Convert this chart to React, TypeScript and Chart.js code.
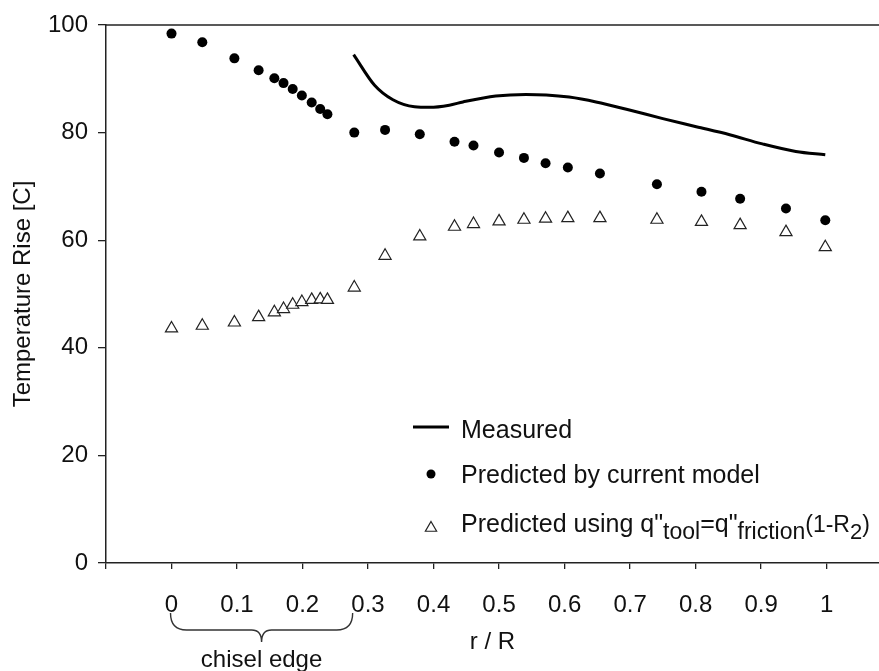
import React, { useEffect, useRef } from 'react';
import { Chart, registerables } from 'chart.js';

Chart.register(...registerables);

// r/R positions shared by both predicted series
const rOverR = [0, 0.047, 0.096, 0.133, 0.157, 0.171, 0.185, 0.199, 0.214, 0.227, 0.238, 0.279, 0.326, 0.379, 0.432, 0.461, 0.5, 0.538, 0.571, 0.605, 0.654, 0.741, 0.809, 0.868, 0.938, 0.998];
const predictedCurrent = [98.4, 96.8, 93.8, 91.6, 90.1, 89.2, 88.1, 86.9, 85.6, 84.4, 83.4, 80.0, 80.5, 79.7, 78.3, 77.6, 76.3, 75.3, 74.3, 73.5, 72.4, 70.4, 69.0, 67.7, 65.9, 63.7];
const predictedFriction = [43.6, 44.1, 44.7, 45.7, 46.6, 47.2, 48.0, 48.5, 48.9, 49.0, 48.9, 51.2, 57.1, 60.7, 62.5, 63.0, 63.5, 63.8, 64.0, 64.1, 64.1, 63.8, 63.4, 62.8, 61.5, 58.7];
const measuredX = [0.278, 0.31, 0.338, 0.371, 0.394, 0.424, 0.445, 0.495, 0.541, 0.572, 0.607, 0.648, 0.699, 0.75, 0.801, 0.852, 0.902, 0.953, 0.998];
const measuredY = [94.5, 88.8, 86.1, 84.8, 84.7, 85.1, 85.7, 86.8, 87.1, 87.0, 86.6, 85.7, 84.2, 82.6, 81.1, 79.6, 77.9, 76.5, 75.9];
const xTickValues = [-0.1, 0, 0.1, 0.2, 0.3, 0.4, 0.5, 0.6, 0.7, 0.8, 0.9, 1];
const yTickValues = [0, 20, 40, 60, 80, 100];
const chiselRange = [0, 0.275];
const legendLabels = ['Measured', 'Predicted by current model'];

const FAMILY = '"Liberation Sans", Arial, sans-serif';
const INK = '#111';
const AXIS = '#222';

const decorPlugin = {
  id: 'decor',
  afterDraw(chart: any) {
    const ctx = chart.ctx;
    const area = chart.chartArea;
    const xs = chart.scales.x;
    ctx.save();
    // top frame line
    ctx.strokeStyle = AXIS;
    ctx.lineWidth = 1.5;
    ctx.beginPath();
    ctx.moveTo(area.left, area.top);
    ctx.lineTo(Math.max(area.right, chart.width), area.top);
    ctx.stroke();

    // brace for chisel edge
    const x0 = xs.getPixelForValue(chiselRange[0]) - 1;
    const x1 = xs.getPixelForValue(chiselRange[1]) + 1;
    const mid = (x0 + x1) / 2;
    const yTop = 613;
    const yH = 630;
    const yCusp = 642;
    ctx.strokeStyle = '#333';
    ctx.lineWidth = 1.4;
    ctx.beginPath();
    ctx.moveTo(x0, yTop);
    ctx.quadraticCurveTo(x0, yH, x0 + 16, yH);
    ctx.lineTo(mid - 10, yH);
    ctx.quadraticCurveTo(mid, yH, mid, yCusp);
    ctx.quadraticCurveTo(mid, yH, mid + 10, yH);
    ctx.lineTo(x1 - 16, yH);
    ctx.quadraticCurveTo(x1, yH, x1, yTop);
    ctx.stroke();

    ctx.fillStyle = INK;
    ctx.font = `24px ${FAMILY}`;
    ctx.textAlign = 'center';
    ctx.textBaseline = 'alphabetic';
    ctx.fillText('chisel edge', mid, 667);

    // legend
    const lx = 431;
    const tx = 461;
    ctx.textAlign = 'left';
    ctx.strokeStyle = '#000';
    ctx.lineWidth = 3;
    ctx.beginPath();
    ctx.moveTo(413, 427);
    ctx.lineTo(449, 427);
    ctx.stroke();
    ctx.font = `25px ${FAMILY}`;
    ctx.fillText(legendLabels[0], tx, 438);

    ctx.fillStyle = '#000';
    ctx.beginPath();
    ctx.arc(lx, 474, 4.5, 0, Math.PI * 2);
    ctx.fill();
    ctx.fillStyle = INK;
    ctx.fillText(legendLabels[1], tx, 483);

    // triangle
    const r = 6.5;
    const cy = 528;
    ctx.strokeStyle = '#222';
    ctx.lineWidth = 1.2;
    ctx.fillStyle = '#fff';
    ctx.beginPath();
    for (let i = 0; i < 3; i++) {
      const a = (i * 2 * Math.PI) / 3;
      const px = lx + Math.sin(a) * r;
      const py = cy - Math.cos(a) * r;
      if (i === 0) ctx.moveTo(px, py); else ctx.lineTo(px, py);
    }
    ctx.closePath();
    ctx.fill();
    ctx.stroke();

    ctx.fillStyle = INK;
    const parts: [string, number, number][] = [
      ['Predicted using q"', 25, 532],
      ['tool', 23, 539],
      ['=q"', 25, 532],
      ['friction', 23, 539],
      ['(1-R', 23, 532],
      ['2', 22, 539],
      [')', 23, 532],
    ];
    let cx = tx;
    for (const [t, size, by] of parts) {
      ctx.font = `${size}px ${FAMILY}`;
      ctx.fillText(t, cx, by);
      cx += ctx.measureText(t).width;
    }
    ctx.restore();
  },
};

export default function App() {
  const ref = useRef<HTMLCanvasElement | null>(null);

  useEffect(() => {
    document.body.style.margin = '0';
    const canvas = ref.current;
    if (!canvas) return;
    const font = { family: FAMILY, size: 24 };
    const chart = new Chart(canvas, {
      type: 'scatter',
      data: {
        datasets: [
          {
            label: 'Measured',
            data: measuredX.map((x, i) => ({ x, y: measuredY[i] })),
            showLine: true,
            borderColor: '#000',
            borderWidth: 3,
            pointRadius: 0,
            pointHoverRadius: 0,
            cubicInterpolationMode: 'monotone',
            fill: false,
          },
          {
            label: 'Predicted by current model',
            data: rOverR.map((x, i) => ({ x, y: predictedCurrent[i] })),
            pointStyle: 'circle',
            pointRadius: 5,
            backgroundColor: '#000',
            borderColor: '#000',
            borderWidth: 0,
          },
          {
            label: 'Predicted using q"tool=q"friction(1-R2)',
            data: rOverR.map((x, i) => ({ x, y: predictedFriction[i] })),
            pointStyle: 'triangle',
            pointRadius: 7,
            backgroundColor: '#fff',
            borderColor: '#222',
            borderWidth: 1.2,
          },
        ],
      } as any,
      options: {
        responsive: false,
        animation: false,
        layout: { autoPadding: false, padding: { top: 25, left: 0, right: 0, bottom: 0 } },
        plugins: { legend: { display: false }, tooltip: { enabled: false } },
        scales: {
          x: {
            type: 'linear',
            min: -0.1,
            max: 1.08,
            afterBuildTicks: (s: any) => {
              s.ticks = xTickValues.map((v) => ({ value: v }));
            },
            afterFit: (s: any) => {
              s.height = 108;
              s.paddingLeft = 0;
              s.paddingRight = 0;
            },
            grid: { drawOnChartArea: false, drawTicks: true, tickLength: 6, color: AXIS, lineWidth: 1.3 },
            border: { display: true, color: AXIS, width: 1.5 },
            ticks: {
              callback: (v: any) => (v < -0.001 ? '' : String(Math.round(Number(v) * 10) / 10)),
              font,
              color: INK,
              padding: 22,
              maxRotation: 0,
              autoSkip: false,
            },
            title: { display: true, text: 'r / R', font, color: INK, padding: { top: 0, bottom: 14 } },
          },
          y: {
            type: 'linear',
            min: 0,
            max: 100,
            afterBuildTicks: (s: any) => {
              s.ticks = yTickValues.map((v) => ({ value: v }));
            },
            afterFit: (s: any) => {
              s.width = 106;
            },
            grid: { drawOnChartArea: false, drawTicks: true, tickLength: 8, color: AXIS, lineWidth: 1.3 },
            border: { display: true, color: AXIS, width: 1.5 },
            ticks: { font, color: INK, padding: 10 },
            title: { display: true, text: 'Temperature Rise [C]', font, color: INK, padding: { top: 9, bottom: 0 } },
          },
        },
      } as any,
      plugins: [decorPlugin],
    });
    return () => chart.destroy();
  }, []);

  return (
    <div style={{ width: 879, height: 671, background: '#fff', overflow: 'hidden' }}>
      <canvas ref={ref} width={879} height={671} />
    </div>
  );
}
